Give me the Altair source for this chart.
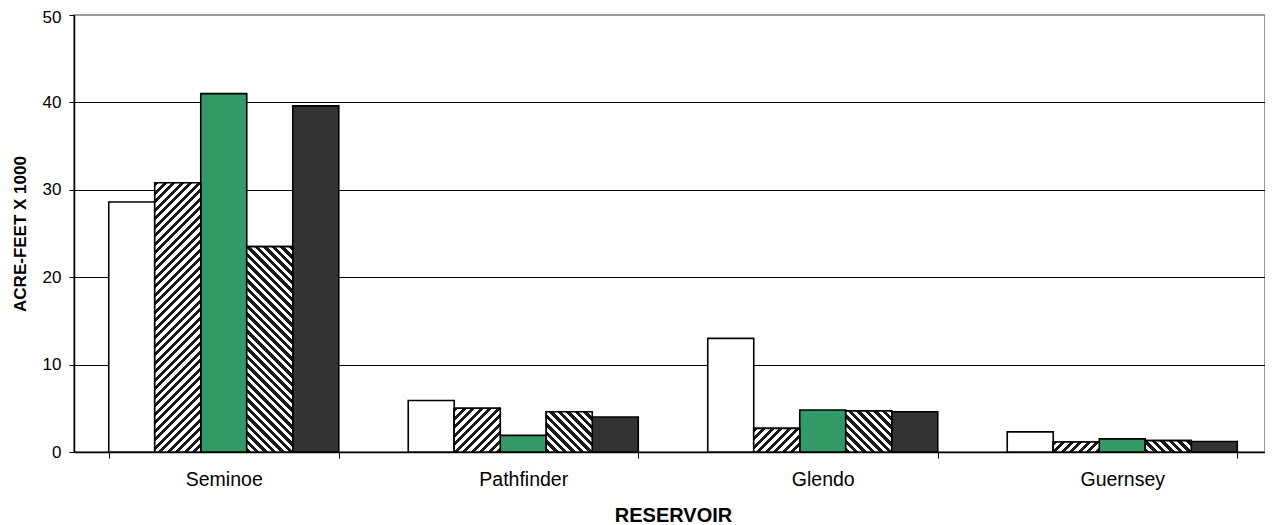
import altair as alt
import pandas as pd

# ---------------- data ----------------
reservoirs = ["Seminoe", "Pathfinder", "Glendo", "Guernsey"]
series = ["Series 1", "Series 2", "Series 3", "Series 4", "Series 5"]
s1 = [28.6, 5.9, 13.0, 2.3]
s2 = [30.8, 5.0, 2.7, 1.15]
s3 = [41.0, 1.9, 4.8, 1.5]
s4 = [23.5, 4.6, 4.7, 1.3]
s5 = [39.6, 4.0, 4.6, 1.2]
y_ticks = [0, 10, 20, 30, 40, 50]

# ---------------- layout / style ----------------
W_VIEW, W_SCALE, H_PLOT = 1191, 1198, 437
Y_MAX = 50
PI, PO = 0.232, 0.116
FONT = "Liberation Sans"
fill_range = ["#ffffff", "#ffffff", "#339966", "#ffffff", "#333333"]
hatch_kind = {"Series 2": "/", "Series 4": "\\"}
HATCH_DARK = "#1a1a1a"
HATCH_LIGHT = "#ffffff"
PERIOD = 8.5

rows = []
for sname, vals in zip(series, [s1, s2, s3, s4, s5]):
    for r, v in zip(reservoirs, vals):
        rows.append({"reservoir": r, "series": sname, "value": v})
df = pd.DataFrame(rows)

step = W_SCALE / (len(reservoirs) - PI + 2 * PO)
bar_w = step * (1 - PI) / len(series)


def hatch(w, h, direction):
    span = w + h
    c = span / (w * w + h * h)
    a, b = c * w, c * h
    stops = []
    k = 0
    while True:
        o0 = k * PERIOD / span
        if o0 >= 1:
            break
        o1 = min(1.0, (k + 0.5) * PERIOD / span)
        o2 = min(1.0, (k + 1) * PERIOD / span)
        stops += [
            alt.GradientStop(offset=o0, color=HATCH_DARK),
            alt.GradientStop(offset=o1, color=HATCH_DARK),
            alt.GradientStop(offset=o1, color=HATCH_LIGHT),
            alt.GradientStop(offset=o2, color=HATCH_LIGHT),
        ]
        k += 1
    if direction == "/":
        return alt.LinearGradient(gradient="linear", stops=stops, x1=0, y1=0, x2=a, y2=b)
    return alt.LinearGradient(gradient="linear", stops=stops, x1=0, y1=1, x2=a, y2=1 - b)


x = alt.X(
    "reservoir:N",
    sort=reservoirs,
    scale=alt.Scale(domain=reservoirs, paddingInner=PI, paddingOuter=PO, range=[0, W_SCALE]),
    axis=alt.Axis(
        title="RESERVOIR",
        labelAngle=0,
        tickBand="extent",
        tickSize=6,
        labelPadding=12,
        titlePadding=17,
        grid=False,
        labelFontSize=19.5,
        titleFontSize=20,
        titleFontWeight="bold",
        titleX=W_SCALE / 2,
    ),
)
xo = alt.XOffset("series:N", sort=series,
                 scale=alt.Scale(domain=series, paddingInner=0, paddingOuter=0))
y = alt.Y(
    "value:Q",
    scale=alt.Scale(domain=[0, Y_MAX], nice=False),
    axis=alt.Axis(
        values=y_ticks,
        title="ACRE-FEET X 1000",
        tickSize=5,
        labelPadding=8,
        titlePadding=13,
        grid=True,
        gridColor={"condition": {"test": "datum.value == 50", "value": "#999999"}, "value": "#000000"},
        gridWidth=1,
        labelFontSize=17,
        labelOffset={"condition": {"test": "datum.value == 50", "value": 2.5}, "value": 0},
        titleFontSize=17,
        titleFontWeight="bold",
    ),
)

base = alt.Chart(df).mark_bar(stroke="black", strokeWidth=1.6).encode(
    x=x,
    xOffset=xo,
    y=y,
    fill=alt.Fill("series:N", scale=alt.Scale(domain=series, range=fill_range), legend=None),
)

layers = [base]
for sname, vals in zip(series, [s1, s2, s3, s4, s5]):
    if sname not in hatch_kind:
        continue
    for r, v in zip(reservoirs, vals):
        h = v / Y_MAX * H_PLOT
        grad = hatch(bar_w, h, hatch_kind[sname])
        layers.append(
            alt.Chart(df)
            .transform_filter((alt.datum.reservoir == r) & (alt.datum.series == sname))
            .mark_bar(fill=grad, stroke="black", strokeWidth=1.6)
            .encode(x=x, xOffset=xo, y=y)
        )

chart = (
    alt.layer(*layers)
    .properties(
        width=W_VIEW,
        height=H_PLOT,
        autosize=alt.AutoSizeParams(type="none"),
        padding={"left": 66, "top": 7, "right": 0, "bottom": 73},
        background="white",
    )
    .configure_view(stroke="#999999", strokeWidth=2)
    .configure_axis(
        labelFont=FONT,
        titleFont=FONT,
        labelColor="black",
        titleColor="black",
        domainColor="black",
        tickColor="black",
        domainWidth=1.5,
    )
)

chart.save("out.html", embed_options={"renderer": "svg", "actions": False})
